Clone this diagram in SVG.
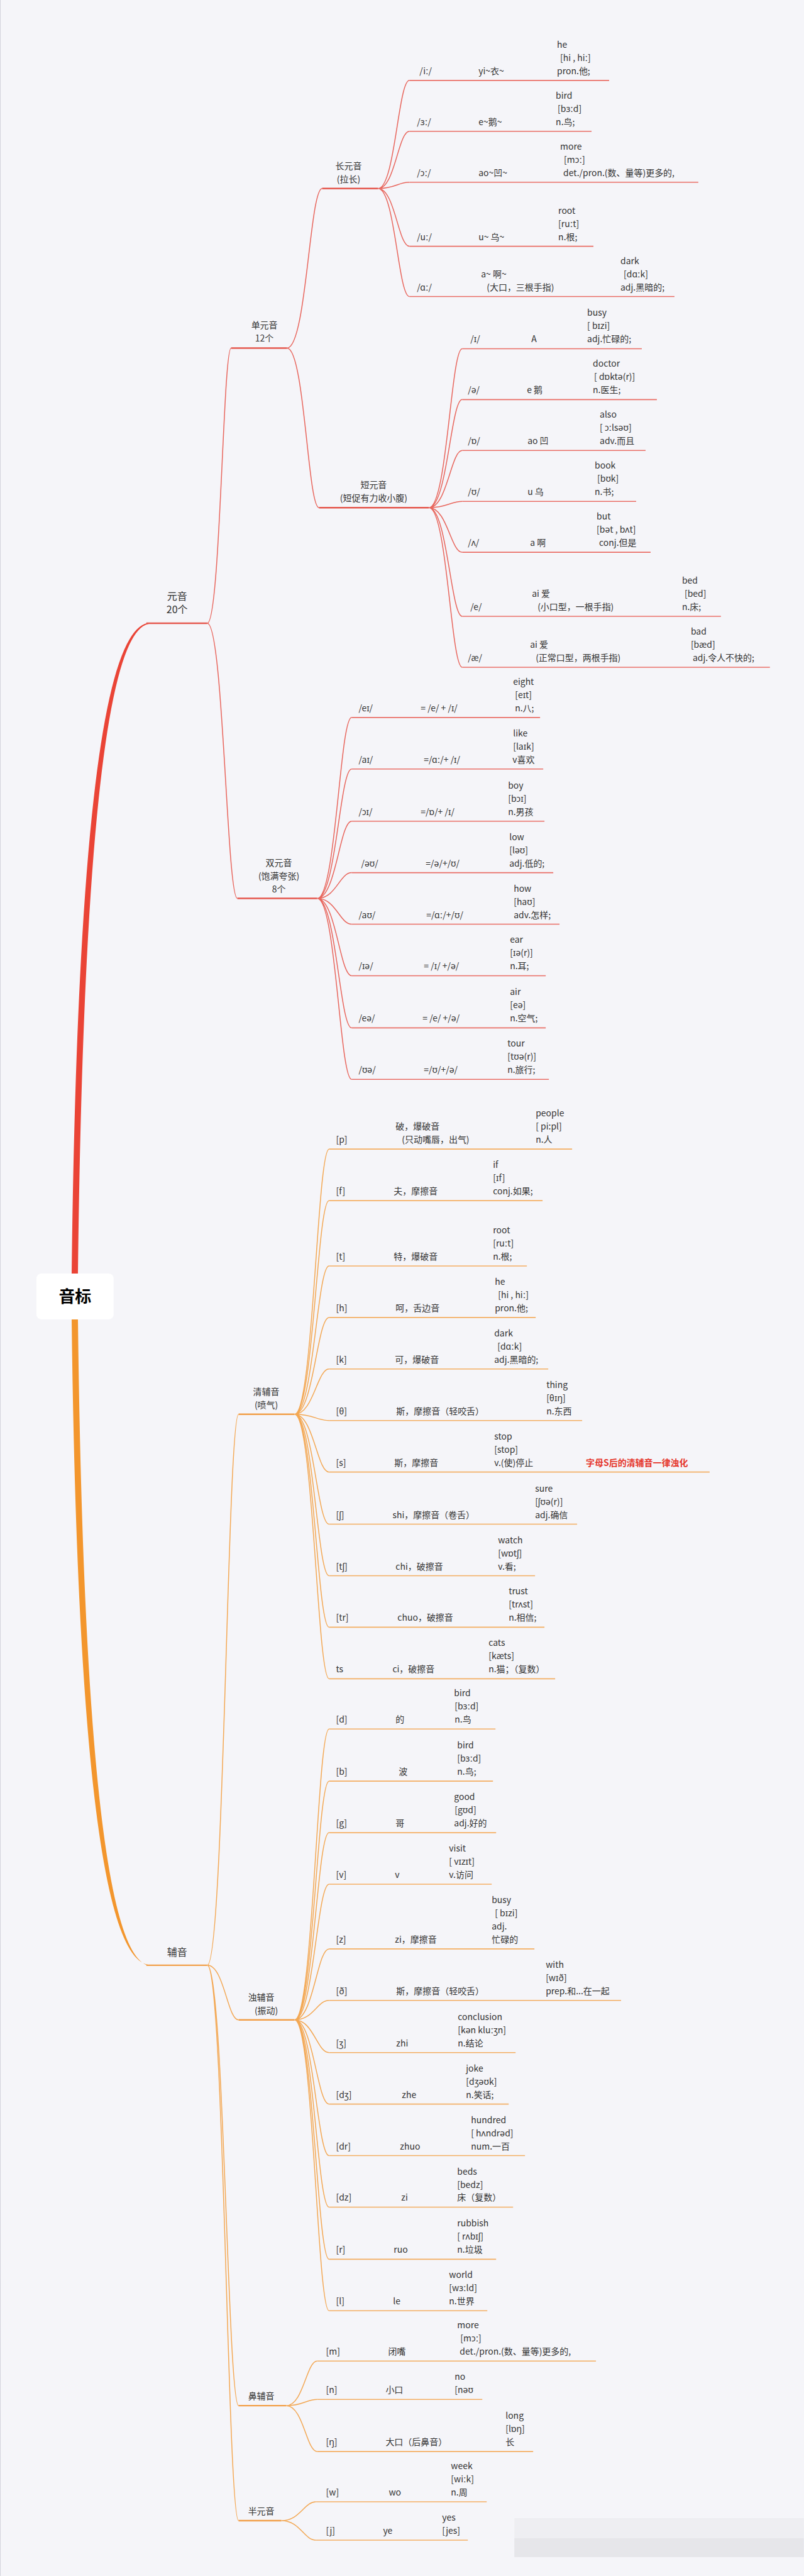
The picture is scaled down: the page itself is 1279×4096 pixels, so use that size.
<svg xmlns="http://www.w3.org/2000/svg" width="1279" height="4096" viewBox="0 0 1279 4096">
<style>
.t{font-family:"Noto Sans CJK SC","Noto Sans","DejaVu Sans",sans-serif;font-size:14px;fill:#333}
.c{text-anchor:middle}
.top{font-size:16px}
.root{font-size:26px;font-weight:bold;fill:#000}
.note{fill:#E5352B;font-weight:bold}
.lr{stroke:#EA6E66;stroke-width:1.6;fill:none}
.lo{stroke:#F4AE62;stroke-width:1.6;fill:none}
.cr{stroke:#E5574D;stroke-width:2.4;fill:none}
.co{stroke:#F2A04A;stroke-width:2.4;fill:none}
.kr{stroke:#E8665D;stroke-width:1.5;fill:none}
.ko{stroke:#F3A854;stroke-width:1.5;fill:none}
</style>
<rect width="1279" height="4096" fill="#F5F5F9"/>
<g transform="scale(0.999)">
<line x1="0.5" y1="0" x2="0.5" y2="4100" stroke="#d4d4dc" stroke-width="1"/>
<rect x="819" y="4008" width="461" height="32" fill="#EEEEF2"/>
<rect x="819" y="4040" width="461" height="30" fill="#E6E6EA"/>

<g id="connectors">
<path d="M114 2034 Q126 990 240 991.3 L240 992.7 Q136 995 124 2034 Z" fill="#EA4436"/>
<path d="M114 2092 Q126 3130 240 3127.3 L240 3128.7 Q136 3126 124 2092 Z" fill="#F3962D"/>
<path class="kr" d="M330 992 C351 992 355 554 368 554"/>
<path class="kr" d="M330 992 C356 992 361 1430 378 1430"/>
<path class="kr" d="M457 554 C488 554 493 300 513 300"/>
<path class="kr" d="M457 554 C485 554 490 808 508 808"/>
<path class="kr" d="M602 300 C629 300 634 128 652 128 M602 300 C629 300 634 209 652 209 M602 300 C629 300 634 290 652 290 M602 300 C629 300 634 392 652 392 M602 300 C629 300 634 472 652 472"/>
<path class="kr" d="M683 808 C712 808 718 555 736 555 M683 808 C712 808 718 636 736 636 M683 808 C712 808 718 717 736 717 M683 808 C712 808 718 798 736 798 M683 808 C712 808 718 879 736 879 M683 808 C712 808 718 981 736 981 M683 808 C712 808 718 1062 736 1062"/>
<path class="kr" d="M505 1430 C535 1430 541 1142 560 1142 M505 1430 C535 1430 541 1224 560 1224 M505 1430 C535 1430 541 1307 560 1307 M505 1430 C535 1430 541 1389 560 1389 M505 1430 C535 1430 541 1471 560 1471 M505 1430 C535 1430 541 1553 560 1553 M505 1430 C535 1430 541 1636 560 1636 M505 1430 C535 1430 541 1718 560 1718"/>
<path class="ko" d="M330 3128 C357 3128 362 2251 380 2251 M330 3128 C357 3128 362 3215 380 3215 M330 3128 C357 3128 362 3829 380 3829 M330 3128 C357 3128 362 4012 380 4012"/>
<path class="ko" d="M469 2251 C499 2251 505 1829 524 1829 M469 2251 C499 2251 505 1911 524 1911 M469 2251 C499 2251 505 2015 524 2015 M469 2251 C499 2251 505 2097 524 2097 M469 2251 C499 2251 505 2179 524 2179 M469 2251 C499 2251 505 2261 524 2261 M469 2251 C499 2251 505 2343 524 2343 M469 2251 C499 2251 505 2426 524 2426 M469 2251 C499 2251 505 2508 524 2508 M469 2251 C499 2251 505 2590 524 2590 M469 2251 C499 2251 505 2672 524 2672"/>
<path class="ko" d="M469 3215 C499 3215 505 2752 524 2752 M469 3215 C499 3215 505 2835 524 2835 M469 3215 C499 3215 505 2917 524 2917 M469 3215 C499 3215 505 2999 524 2999 M469 3215 C499 3215 505 3102 524 3102 M469 3215 C499 3215 505 3184 524 3184 M469 3215 C499 3215 505 3267 524 3267 M469 3215 C499 3215 505 3349 524 3349 M469 3215 C499 3215 505 3431 524 3431 M469 3215 C499 3215 505 3513 524 3513 M469 3215 C499 3215 505 3596 524 3596 M469 3215 C499 3215 505 3678 524 3678"/>
<path class="ko" d="M456 3829 C483 3829 488 3758 505 3758 M456 3829 C483 3829 488 3819 505 3819 M456 3829 C483 3829 488 3902 505 3902"/>
<path class="ko" d="M448 4012 C478 4012 484 3982 503 3982 M448 4012 C478 4012 484 4043 503 4043"/>
</g>

<g id="root">
<rect x="58" y="2027" width="123" height="73" rx="8" fill="#fff"/>
<text class="t root c" x="119.5" y="2073">音标</text>
</g>

<g id="vowel">
<line class="cr" x1="233" y1="992" x2="330" y2="992" stroke-width="1.6"/>
<text class="t top c" x="282" y="955">元音</text>
<text class="t top c" x="282" y="976">20个</text>
</g>
<g id="consonant">
<line class="co" x1="233" y1="3128" x2="330" y2="3128" stroke-width="1.6"/>
<text class="t top c" x="282" y="3113">辅音</text>
</g>

<g id="monophthong">
<line class="cr" x1="368" y1="554" x2="457" y2="554"/>
<text class="t c" x="421" y="523">单元音</text>
<text class="t c" x="421" y="544">12个</text>
</g>
<g id="long-vowel">
<line class="cr" x1="513" y1="300" x2="602" y2="300"/>
<text class="t c" x="555" y="269">长元音</text>
<text class="t c" x="555" y="290">(拉长)</text>
</g>
<g id="short-vowel">
<line class="cr" x1="508" y1="808" x2="683" y2="808"/>
<text class="t c" x="595" y="777">短元音</text>
<text class="t c" x="595" y="798">(短促有力收小腹)</text>
</g>
<g id="diphthong">
<line class="cr" x1="378" y1="1430" x2="505" y2="1430"/>
<text class="t c" x="444" y="1378">双元音</text>
<text class="t c" x="444" y="1399">(饱满夸张)</text>
<text class="t c" x="444" y="1420">8个</text>
</g>
<g id="voiceless">
<line class="co" x1="380" y1="2251" x2="469" y2="2251"/>
<text class="t c" x="424" y="2220">清辅音</text>
<text class="t c" x="424" y="2241">(喷气)</text>
</g>
<g id="voiced">
<line class="co" x1="380" y1="3215" x2="469" y2="3215"/>
<text class="t c" x="416" y="3184">浊辅音</text>
<text class="t c" x="424" y="3205">(振动)</text>
</g>
<g id="nasal">
<line class="co" x1="380" y1="3829" x2="456" y2="3829"/>
<text class="t c" x="416" y="3819">鼻辅音</text>
</g>
<g id="semivowel">
<line class="co" x1="380" y1="4012" x2="448" y2="4012"/>
<text class="t c" x="416" y="4002">半元音</text>
</g>

<!-- long vowels -->
<g id="v-i"><line class="lr" x1="652" y1="128" x2="970" y2="128"/>
<text class="t" x="668" y="118">/iː/</text><text class="t" x="762" y="118">yi~衣~</text>
<text class="t" x="887" y="76">he</text><text class="t" x="892" y="97">[hi , hiː]</text><text class="t" x="887" y="118">pron.他;</text></g>
<g id="v-3"><line class="lr" x1="652" y1="209" x2="942" y2="209"/>
<text class="t" x="664" y="199">/ɜː/</text><text class="t" x="762" y="199">e~鹅~</text>
<text class="t" x="885" y="157">bird</text><text class="t" x="888" y="178">[bɜːd]</text><text class="t" x="885" y="199">n.鸟;</text></g>
<g id="v-o"><line class="lr" x1="652" y1="290" x2="1112" y2="290"/>
<text class="t" x="664" y="280">/ɔː/</text><text class="t" x="762" y="280">ao~凹~</text>
<text class="t" x="892" y="238">more</text><text class="t" x="898" y="259">[mɔː]</text><text class="t" x="897" y="280">det./pron.(数、量等)更多的,</text></g>
<g id="v-u"><line class="lr" x1="652" y1="392" x2="945" y2="392"/>
<text class="t" x="664" y="382">/uː/</text><text class="t" x="762" y="382">u~ 乌~</text>
<text class="t" x="889" y="340">root</text><text class="t" x="889" y="361">[ruːt]</text><text class="t" x="889" y="382">n.根;</text></g>
<g id="v-a"><line class="lr" x1="652" y1="472" x2="1074" y2="472"/>
<text class="t" x="664" y="462">/ɑː/</text><text class="t" x="766" y="441">a~ 啊~</text><text class="t" x="775" y="462">(大口，三根手指)</text>
<text class="t" x="988" y="420">dark</text><text class="t" x="993" y="441">[dɑːk]</text><text class="t" x="988" y="462">adj.黑暗的;</text></g>

<!-- short vowels -->
<g id="v-I"><line class="lr" x1="736" y1="555" x2="1022" y2="555"/>
<text class="t" x="749" y="545">/ɪ/</text><text class="t" x="846" y="545">A</text>
<text class="t" x="935" y="503">busy</text><text class="t" x="935" y="524">[ bɪzi]</text><text class="t" x="935" y="545">adj.忙碌的;</text></g>
<g id="v-schwa"><line class="lr" x1="736" y1="636" x2="1046" y2="636"/>
<text class="t" x="745" y="626">/ə/</text><text class="t" x="839" y="626">e 鹅</text>
<text class="t" x="944" y="584">doctor</text><text class="t" x="946" y="605">[ dɒktə(r)]</text><text class="t" x="944" y="626">n.医生;</text></g>
<g id="v-O"><line class="lr" x1="736" y1="717" x2="1028" y2="717"/>
<text class="t" x="745" y="707">/ɒ/</text><text class="t" x="840" y="707">ao 凹</text>
<text class="t" x="955" y="665">also</text><text class="t" x="955" y="686">[ ɔːlsəʊ]</text><text class="t" x="955" y="707">adv.而且</text></g>
<g id="v-U"><line class="lr" x1="736" y1="798" x2="1013" y2="798"/>
<text class="t" x="745" y="788">/ʊ/</text><text class="t" x="840" y="788">u 乌</text>
<text class="t" x="947" y="746">book</text><text class="t" x="951" y="767">[bʊk]</text><text class="t" x="947" y="788">n.书;</text></g>
<g id="v-V"><line class="lr" x1="736" y1="879" x2="1036" y2="879"/>
<text class="t" x="745" y="869">/ʌ/</text><text class="t" x="844" y="869">a 啊</text>
<text class="t" x="950" y="827">but</text><text class="t" x="950" y="848">[bət , bʌt]</text><text class="t" x="954" y="869">conj.但是</text></g>
<g id="v-e"><line class="lr" x1="736" y1="981" x2="1148" y2="981"/>
<text class="t" x="749" y="971">/e/</text><text class="t" x="847" y="950">ai 爱</text><text class="t" x="856" y="971">(小口型，一根手指)</text>
<text class="t" x="1086" y="929">bed</text><text class="t" x="1090" y="950">[bed]</text><text class="t" x="1086" y="971">n.床;</text></g>
<g id="v-ae"><line class="lr" x1="736" y1="1062" x2="1226" y2="1062"/>
<text class="t" x="745" y="1052">/æ/</text><text class="t" x="844" y="1031">ai 爱</text><text class="t" x="853" y="1052">(正常口型，两根手指)</text>
<text class="t" x="1100" y="1010">bad</text><text class="t" x="1100" y="1031">[bæd]</text><text class="t" x="1103" y="1052">adj.令人不快的;</text></g>

<!-- diphthongs -->
<g id="d-eI"><line class="lr" x1="560" y1="1142" x2="860" y2="1142"/>
<text class="t" x="571" y="1132">/eɪ/</text><text class="t" x="670" y="1132">= /e/ + /ɪ/</text>
<text class="t" x="817" y="1090">eight</text><text class="t" x="820" y="1111">[eɪt]</text><text class="t" x="820" y="1132">n.八;</text></g>
<g id="d-aI"><line class="lr" x1="560" y1="1224" x2="865" y2="1224"/>
<text class="t" x="571" y="1214">/aɪ/</text><text class="t" x="675" y="1214">=/ɑː/+ /ɪ/</text>
<text class="t" x="817" y="1172">like</text><text class="t" x="817" y="1193">[laɪk]</text><text class="t" x="816" y="1214">v喜欢</text></g>
<g id="d-oI"><line class="lr" x1="560" y1="1307" x2="867" y2="1307"/>
<text class="t" x="571" y="1297">/ɔɪ/</text><text class="t" x="670" y="1297">=/ɒ/+ /ɪ/</text>
<text class="t" x="809" y="1255">boy</text><text class="t" x="809" y="1276">[bɔɪ]</text><text class="t" x="809" y="1297">n.男孩</text></g>
<g id="d-eU"><line class="lr" x1="560" y1="1389" x2="881" y2="1389"/>
<text class="t" x="575" y="1379">/əʊ/</text><text class="t" x="678" y="1379">=/ə/+/ʊ/</text>
<text class="t" x="811" y="1337">low</text><text class="t" x="811" y="1358">[ləʊ]</text><text class="t" x="811" y="1379">adj.低的;</text></g>
<g id="d-aU"><line class="lr" x1="560" y1="1471" x2="891" y2="1471"/>
<text class="t" x="571" y="1461">/aʊ/</text><text class="t" x="679" y="1461">=/ɑː/+/ʊ/</text>
<text class="t" x="818" y="1419">how</text><text class="t" x="818" y="1440">[haʊ]</text><text class="t" x="818" y="1461">adv.怎样;</text></g>
<g id="d-Ie"><line class="lr" x1="560" y1="1553" x2="869" y2="1553"/>
<text class="t" x="571" y="1543">/ɪə/</text><text class="t" x="675" y="1543">= /ɪ/ +/ə/</text>
<text class="t" x="812" y="1501">ear</text><text class="t" x="812" y="1522">[ɪə(r)]</text><text class="t" x="812" y="1543">n.耳;</text></g>
<g id="d-ee"><line class="lr" x1="560" y1="1636" x2="869" y2="1636"/>
<text class="t" x="571" y="1626">/eə/</text><text class="t" x="673" y="1626">= /e/ +/ə/</text>
<text class="t" x="812" y="1584">air</text><text class="t" x="812" y="1605">[eə]</text><text class="t" x="812" y="1626">n.空气;</text></g>
<g id="d-Ue"><line class="lr" x1="560" y1="1718" x2="874" y2="1718"/>
<text class="t" x="571" y="1708">/ʊə/</text><text class="t" x="675" y="1708">=/ʊ/+/ə/</text>
<text class="t" x="808" y="1666">tour</text><text class="t" x="808" y="1687">[tʊə(r)]</text><text class="t" x="808" y="1708">n.旅行;</text></g>

<!-- voiceless consonants -->
<g id="c-p"><line class="lo" x1="524" y1="1829" x2="911" y2="1829"/>
<text class="t" x="535" y="1819">[p]</text><text class="t" x="630" y="1798">破，爆破音</text><text class="t" x="640" y="1819">(只动嘴唇，出气)</text>
<text class="t" x="853" y="1777">people</text><text class="t" x="853" y="1798">[ pi:pl]</text><text class="t" x="853" y="1819">n.人</text></g>
<g id="c-f"><line class="lo" x1="524" y1="1911" x2="864" y2="1911"/>
<text class="t" x="535" y="1901">[f]</text><text class="t" x="627" y="1901">夫，摩擦音</text>
<text class="t" x="785" y="1859">if</text><text class="t" x="785" y="1880">[ɪf]</text><text class="t" x="785" y="1901">conj.如果;</text></g>
<g id="c-t"><line class="lo" x1="524" y1="2015" x2="839" y2="2015"/>
<text class="t" x="535" y="2005">[t]</text><text class="t" x="627" y="2005">特，爆破音</text>
<text class="t" x="785" y="1963">root</text><text class="t" x="785" y="1984">[ruːt]</text><text class="t" x="785" y="2005">n.根;</text></g>
<g id="c-h"><line class="lo" x1="524" y1="2097" x2="853" y2="2097"/>
<text class="t" x="535" y="2087">[h]</text><text class="t" x="630" y="2087">呵，舌边音</text>
<text class="t" x="788" y="2045">he</text><text class="t" x="793" y="2066">[hi , hiː]</text><text class="t" x="788" y="2087">pron.他;</text></g>
<g id="c-k"><line class="lo" x1="524" y1="2179" x2="873" y2="2179"/>
<text class="t" x="535" y="2169">[k]</text><text class="t" x="629" y="2169">可，爆破音</text>
<text class="t" x="787" y="2127">dark</text><text class="t" x="792" y="2148">[dɑːk]</text><text class="t" x="787" y="2169">adj.黑暗的;</text></g>
<g id="c-th"><line class="lo" x1="524" y1="2261" x2="927" y2="2261"/>
<text class="t" x="535" y="2251">[θ]</text><text class="t" x="631" y="2251">斯，摩擦音（轻咬舌）</text>
<text class="t" x="870" y="2209">thing</text><text class="t" x="870" y="2230">[θɪŋ]</text><text class="t" x="870" y="2251">n.东西</text></g>
<g id="c-s"><line class="lo" x1="524" y1="2343" x2="1130" y2="2343"/>
<text class="t" x="535" y="2333">[s]</text><text class="t" x="628" y="2333">斯，摩擦音</text>
<text class="t" x="787" y="2291">stop</text><text class="t" x="787" y="2312">[stop]</text><text class="t" x="787" y="2333">v.(使)停止</text>
<text class="t note" x="933" y="2333">字母S后的清辅音一律浊化</text></g>
<g id="c-sh"><line class="lo" x1="524" y1="2426" x2="919" y2="2426"/>
<text class="t" x="535" y="2416">[ʃ]</text><text class="t" x="625" y="2416">shi，摩擦音（卷舌）</text>
<text class="t" x="852" y="2374">sure</text><text class="t" x="852" y="2395">[ʃʊə(r)]</text><text class="t" x="852" y="2416">adj.确信</text></g>
<g id="c-ch"><line class="lo" x1="524" y1="2508" x2="852" y2="2508"/>
<text class="t" x="535" y="2498">[tʃ]</text><text class="t" x="630" y="2498">chi，破擦音</text>
<text class="t" x="793" y="2456">watch</text><text class="t" x="793" y="2477">[wɒtʃ]</text><text class="t" x="793" y="2498">v.看;</text></g>
<g id="c-tr"><line class="lo" x1="524" y1="2590" x2="867" y2="2590"/>
<text class="t" x="535" y="2580">[tr]</text><text class="t" x="633" y="2580">chuo，破擦音</text>
<text class="t" x="810" y="2538">trust</text><text class="t" x="810" y="2559">[trʌst]</text><text class="t" x="810" y="2580">n.相信;</text></g>
<g id="c-ts"><line class="lo" x1="524" y1="2672" x2="884" y2="2672"/>
<text class="t" x="535" y="2662">ts</text><text class="t" x="625" y="2662">ci，破擦音</text>
<text class="t" x="778" y="2620">cats</text><text class="t" x="778" y="2641">[kæts]</text><text class="t" x="778" y="2662">n.猫；（复数）</text></g>

<!-- voiced consonants -->
<g id="c-d"><line class="lo" x1="524" y1="2752" x2="789" y2="2752"/>
<text class="t" x="535" y="2742">[d]</text><text class="t" x="630" y="2742">的</text>
<text class="t" x="723" y="2700">bird</text><text class="t" x="724" y="2721">[bɜːd]</text><text class="t" x="724" y="2742">n.鸟</text></g>
<g id="c-b"><line class="lo" x1="524" y1="2835" x2="785" y2="2835"/>
<text class="t" x="535" y="2825">[b]</text><text class="t" x="635" y="2825">波</text>
<text class="t" x="728" y="2783">bird</text><text class="t" x="728" y="2804">[bɜːd]</text><text class="t" x="728" y="2825">n.鸟;</text></g>
<g id="c-g"><line class="lo" x1="524" y1="2917" x2="790" y2="2917"/>
<text class="t" x="535" y="2907">[g]</text><text class="t" x="630" y="2907">哥</text>
<text class="t" x="723" y="2865">good</text><text class="t" x="724" y="2886">[gʊd]</text><text class="t" x="723" y="2907">adj.好的</text></g>
<g id="c-v"><line class="lo" x1="524" y1="2999" x2="783" y2="2999"/>
<text class="t" x="535" y="2989">[v]</text><text class="t" x="629" y="2989">v</text>
<text class="t" x="715" y="2947">visit</text><text class="t" x="715" y="2968">[ vɪzɪt]</text><text class="t" x="715" y="2989">v.访问</text></g>
<g id="c-z"><line class="lo" x1="524" y1="3102" x2="851" y2="3102"/>
<text class="t" x="535" y="3092">[z]</text><text class="t" x="629" y="3092">zi，摩擦音</text>
<text class="t" x="783" y="3029">busy</text><text class="t" x="788" y="3050">[ bɪzi]</text><text class="t" x="783" y="3071">adj.</text><text class="t" x="783" y="3092">忙碌的</text></g>
<g id="c-dh"><line class="lo" x1="524" y1="3184" x2="989" y2="3184"/>
<text class="t" x="535" y="3174">[ð]</text><text class="t" x="631" y="3174">斯，摩擦音（轻咬舌）</text>
<text class="t" x="869" y="3132">with</text><text class="t" x="869" y="3153">[wɪð]</text><text class="t" x="869" y="3174">prep.和...在一起</text></g>
<g id="c-zh"><line class="lo" x1="524" y1="3267" x2="821" y2="3267"/>
<text class="t" x="535" y="3257">[ʒ]</text><text class="t" x="631" y="3257">zhi</text>
<text class="t" x="729" y="3215">conclusion</text><text class="t" x="729" y="3236">[kən kluːʒn]</text><text class="t" x="729" y="3257">n.结论</text></g>
<g id="c-dzh"><line class="lo" x1="524" y1="3349" x2="810" y2="3349"/>
<text class="t" x="535" y="3339">[dʒ]</text><text class="t" x="640" y="3339">zhe</text>
<text class="t" x="742" y="3297">joke</text><text class="t" x="742" y="3318">[dʒəʊk]</text><text class="t" x="742" y="3339">n.笑话;</text></g>
<g id="c-dr"><line class="lo" x1="524" y1="3431" x2="836" y2="3431"/>
<text class="t" x="535" y="3421">[dr]</text><text class="t" x="637" y="3421">zhuo</text>
<text class="t" x="750" y="3379">hundred</text><text class="t" x="750" y="3400">[ hʌndrəd]</text><text class="t" x="750" y="3421">num.一百</text></g>
<g id="c-dz"><line class="lo" x1="524" y1="3513" x2="817" y2="3513"/>
<text class="t" x="535" y="3503">[dz]</text><text class="t" x="639" y="3503">zi</text>
<text class="t" x="728" y="3461">beds</text><text class="t" x="728" y="3482">[bedz]</text><text class="t" x="728" y="3503">床（复数）</text></g>
<g id="c-r"><line class="lo" x1="524" y1="3596" x2="790" y2="3596"/>
<text class="t" x="535" y="3586">[r]</text><text class="t" x="627" y="3586">ruo</text>
<text class="t" x="728" y="3544">rubbish</text><text class="t" x="728" y="3565">[ rʌbɪʃ]</text><text class="t" x="728" y="3586">n.垃圾</text></g>
<g id="c-l"><line class="lo" x1="524" y1="3678" x2="776" y2="3678"/>
<text class="t" x="535" y="3668">[l]</text><text class="t" x="626" y="3668">le</text>
<text class="t" x="715" y="3626">world</text><text class="t" x="715" y="3647">[wɜːld]</text><text class="t" x="715" y="3668">n.世界</text></g>

<!-- nasal -->
<g id="c-m"><line class="lo" x1="505" y1="3758" x2="949" y2="3758"/>
<text class="t" x="519" y="3748">[m]</text><text class="t" x="618" y="3748">闭嘴</text>
<text class="t" x="728" y="3706">more</text><text class="t" x="733" y="3727">[mɔː]</text><text class="t" x="732" y="3748">det./pron.(数、量等)更多的,</text></g>
<g id="c-n"><line class="lo" x1="505" y1="3819" x2="768" y2="3819"/>
<text class="t" x="519" y="3809">[n]</text><text class="t" x="614" y="3809">小口</text>
<text class="t" x="724" y="3788">no</text><text class="t" x="724" y="3809">[nəʊ</text></g>
<g id="c-ng"><line class="lo" x1="505" y1="3902" x2="849" y2="3902"/>
<text class="t" x="519" y="3892">[ŋ]</text><text class="t" x="614" y="3892">大口（后鼻音）</text>
<text class="t" x="805" y="3850">long</text><text class="t" x="805" y="3871">[lɒŋ]</text><text class="t" x="805" y="3892">长</text></g>

<!-- semivowels -->
<g id="c-w"><line class="lo" x1="503" y1="3982" x2="775" y2="3982"/>
<text class="t" x="519" y="3972">[w]</text><text class="t" x="619" y="3972">wo</text>
<text class="t" x="718" y="3930">week</text><text class="t" x="718" y="3951">[wiːk]</text><text class="t" x="718" y="3972">n.周</text></g>
<g id="c-j"><line class="lo" x1="503" y1="4043" x2="745" y2="4043"/>
<text class="t" x="519" y="4033">[j]</text><text class="t" x="610" y="4033">ye</text>
<text class="t" x="704" y="4012">yes</text><text class="t" x="704" y="4033">[jes]</text></g>
</g>
</svg>
